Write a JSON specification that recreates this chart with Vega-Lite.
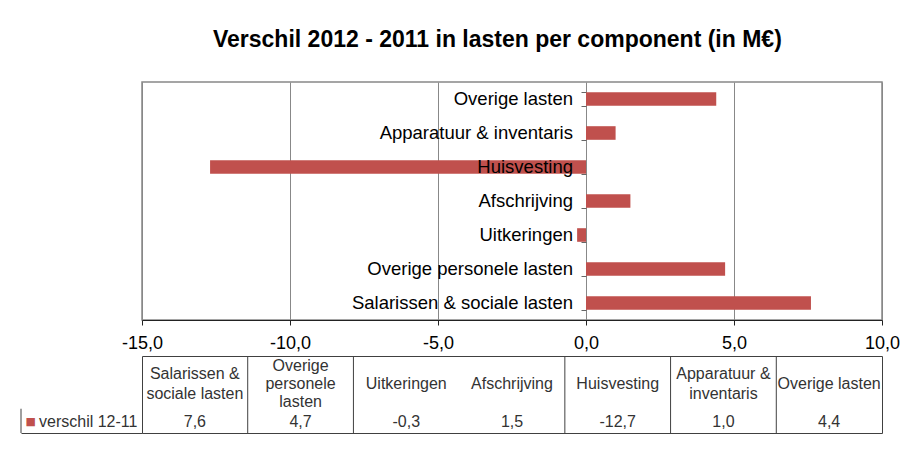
{
  "$schema": "https://vega.github.io/schema/vega-lite/v6.json",
  "datasets": {
    "d": [
      {"cat": "Salarissen & sociale lasten", "hdr": ["Salarissen &", "sociale lasten"], "value": 7.6},
      {"cat": "Overige personele lasten", "hdr": ["Overige", "personele", "lasten"], "value": 4.7},
      {"cat": "Uitkeringen", "hdr": ["Uitkeringen"], "value": -0.3},
      {"cat": "Afschrijving", "hdr": ["Afschrijving"], "value": 1.5},
      {"cat": "Huisvesting", "hdr": ["Huisvesting"], "value": -12.7},
      {"cat": "Apparatuur & inventaris", "hdr": ["Apparatuur &", "inventaris"], "value": 1.0},
      {"cat": "Overige lasten", "hdr": ["Overige lasten"], "value": 4.4}
    ]
  },
  "title": {
    "text": "Verschil 2012 - 2011 in lasten per component (in M€)",
    "fontSize": 23,
    "fontWeight": "bold",
    "font": "Liberation Sans",
    "color": "#000",
    "anchor": "middle",
    "frame": "bounds",
    "dx": 37,
    "offset": 29
  },
  "padding": {"left": 20, "top": 29, "right": 0, "bottom": 5},
  "config": {
    "locale": {"number": {"decimal": ",", "thousands": ".", "grouping": [3], "currency": ["€", ""], "minus": "-"}},
    "font": "Liberation Sans",
    "view": {"stroke": null}
  },
  "spacing": 2,
  "vconcat": [
    {
      "spacing": 0,
      "bounds": "flush",
      "hconcat": [
        {
          "width": 121,
          "height": 238,
          "data": {"values": [{}]},
          "mark": {"type": "text"},
          "encoding": {},
          "view": {"stroke": null}
        },
        {
          "width": 740,
          "height": 238,
          "data": {"name": "d"},
          "view": {"stroke": "#888", "strokeWidth": 1.5},
          "encoding": {
            "y": {
              "field": "cat",
              "type": "nominal",
              "sort": ["Overige lasten", "Apparatuur & inventaris", "Huisvesting", "Afschrijving", "Uitkeringen", "Overige personele lasten", "Salarissen & sociale lasten"],
              "scale": {"paddingInner": 0.6, "paddingOuter": 0.3},
              "axis": {
                "title": null,
                "orient": "left",
                "offset": -444,
                "labels": false,
                "domain": false,
                "ticks": true,
                "tickBand": "extent",
                "tickSize": 5,
                "tickColor": "#666"
              }
            }
          },
          "layer": [
            {
              "mark": {"type": "bar", "color": "#c0504d"},
              "encoding": {
                "x": {
                  "field": "value",
                  "type": "quantitative",
                  "scale": {"domain": [-15, 10], "nice": false, "zero": false},
                  "axis": {
                    "title": null,
                    "values": [-15, -10, -5, 0, 5, 10],
                    "format": ".1f",
                    "grid": true,
                    "gridColor": "#888",
                    "domainColor": "#222",
                    "tickColor": "#222",
                    "tickSize": 5,
                    "labelFontSize": 18,
                    "labelColor": "#000",
                    "labelPadding": 9,
                    "labelFlush": false,
                    "labelOverlap": false
                  }
                }
              }
            },
            {
              "mark": {"type": "rule", "color": "#666", "strokeWidth": 1},
              "encoding": {"x": {"datum": 0, "type": "quantitative"}}
            },
            {
              "mark": {"type": "text", "align": "right", "baseline": "middle", "dx": -13, "fontSize": 18.5, "color": "#000"},
              "encoding": {
                "x": {"datum": 0, "type": "quantitative"},
                "text": {"field": "cat"}
              }
            }
          ]
        }
      ]
    },
    {
      "spacing": 0,
      "bounds": "flush",
      "hconcat": [
        {
          "width": 121,
          "height": 77,
          "data": {"values": [{"s": "verschil 12-11"}]},
          "view": {"stroke": null},
          "encoding": {
            "x": {
              "field": "s",
              "type": "nominal",
              "scale": {"paddingInner": 0, "paddingOuter": 0},
              "axis": {"title": null, "labels": false, "ticks": false, "domain": true, "domainColor": "#404040", "orient": "bottom"}
            },
            "y": {
              "datum": "value",
              "type": "nominal",
              "scale": {"domain": ["header", "value"], "paddingInner": 0, "paddingOuter": 0},
              "axis": null
            }
          },
          "layer": [
            {
              "mark": {"type": "text", "align": "left", "dx": -42.5, "dy": 8.5, "fontSize": 16, "color": "#333"},
              "encoding": {"text": {"field": "s"}}
            },
            {
              "mark": {"type": "text", "text": "■", "font": "DejaVu Sans", "align": "left", "dx": -56, "dy": 8.5, "fontSize": 11, "color": "#c0504d"}
            },
            {
              "mark": {"type": "rule", "color": "#404040"},
              "encoding": {
                "x": {"field": "s", "type": "nominal", "bandPosition": 0},
                "y": {"datum": "value", "type": "nominal", "bandPosition": 0.37},
                "y2": {"datum": "value", "bandPosition": 1}
              }
            }
          ]
        },
        {
          "width": 740,
          "height": 77,
          "data": {"name": "d"},
          "view": {"stroke": "#404040", "strokeWidth": 1},
          "encoding": {
            "x": {
              "field": "cat",
              "type": "nominal",
              "sort": ["Salarissen & sociale lasten", "Overige personele lasten", "Uitkeringen", "Afschrijving", "Huisvesting", "Apparatuur & inventaris", "Overige lasten"],
              "scale": {"domain": ["Salarissen & sociale lasten", "Overige personele lasten", "Uitkeringen", "Afschrijving", "Huisvesting", "Apparatuur & inventaris", "Overige lasten"], "paddingInner": 0, "paddingOuter": 0},
              "axis": null
            },
            "y": {"datum": "header", "type": "nominal", "scale": {"domain": ["header", "value"], "paddingInner": 0, "paddingOuter": 0}, "axis": null}
          },
          "layer": [
            {
              "transform": [{"filter": "datum.cat != 'Salarissen & sociale lasten' && datum.cat != 'Afschrijving'"}],
              "mark": {"type": "rule", "color": "#404040"},
              "encoding": {
                "x": {
                  "field": "cat",
                  "type": "nominal",
                  "bandPosition": 0,
                  "sort": ["Salarissen & sociale lasten", "Overige personele lasten", "Uitkeringen", "Afschrijving", "Huisvesting", "Apparatuur & inventaris", "Overige lasten"]
                },
                "y": null
              }
            },
            {
              "transform": [{"filter": "length(datum.hdr) == 1"}],
              "mark": {"type": "text", "fontSize": 16, "lineHeight": 18.5, "color": "#333", "dy": 8.5},
              "encoding": {"text": {"field": "hdr"}}
            },
            {
              "transform": [{"filter": "length(datum.hdr) == 2"}],
              "mark": {"type": "text", "fontSize": 16, "lineHeight": 19.5, "color": "#333", "dy": -1.25},
              "encoding": {"text": {"field": "hdr"}}
            },
            {
              "transform": [{"filter": "length(datum.hdr) == 3"}],
              "mark": {"type": "text", "fontSize": 16, "lineHeight": 18, "color": "#333", "dy": -9.5},
              "encoding": {"text": {"field": "hdr"}}
            },
            {
              "mark": {"type": "text", "fontSize": 16, "color": "#333", "dy": 8.5},
              "encoding": {
                "text": {"field": "value", "type": "quantitative", "format": ".1f"},
                "y": {"datum": "value", "type": "nominal", "scale": {"domain": ["header", "value"], "paddingInner": 0, "paddingOuter": 0}, "axis": null}
              }
            }
          ]
        }
      ]
    }
  ]
}
